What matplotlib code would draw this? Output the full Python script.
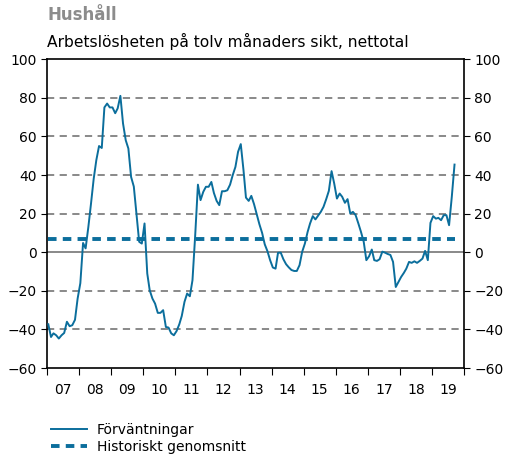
import numpy as np
import pandas as pd
import matplotlib
matplotlib.use("Agg")
import matplotlib.pyplot as plt

# monthly net balance, Jan 2007 - Sep 2019
v2007 = [-37.3, -43.9, -42, -43, -44.7, -43, -41.8, -36, -38.3, -37.8, -35, -24]
v2008 = [-16, 4.8, 2, 13, 25, 38, 47.7, 55, 54, 75, 77, 75]
v2009 = [75, 72, 74.5, 81, 66.7, 58, 53.7, 39, 34, 20, 5.4, 4.5]
v2010 = [14.9, -11, -19.7, -24, -26.6, -31.4, -31.4, -30, -38.7, -39, -42, -43]
v2011 = [-40.8, -37.3, -33, -25.7, -21.4, -22.8, -14.5, 8.8, 35, 27, 31.3, 33.9]
v2012 = [33.9, 36.4, 30.7, 26.6, 24.4, 31.6, 31.6, 32.1, 35, 39.9, 44.2, 52]
v2013 = [56, 42.5, 28.3, 26.6, 29.2, 24.9, 19.7, 14.5, 10, 4.1, 0.5, -4.1]
v2014 = [-7.9, -8.5, -0.3, -0.2, -3.6, -6.2, -7.8, -9.2, -9.7, -9.7, -6.7, 0.2]
v2015 = [4.5, 10.5, 14.9, 18.7, 17, 19, 20.9, 23.5, 27.5, 31.8, 42, 35.6]
v2016 = [27.8, 30.4, 28.7, 25.6, 27.5, 20, 20.9, 19.2, 14.9, 10.5, 5.4, -4.1]
v2017 = [-2.1, 1.4, -4.1, -4.5, -3.6, 0.3, -0.2, -0.9, -1.4, -5, -18, -15.5]
v2018 = [-12.8, -10.7, -8.5, -5, -5.5, -4.7, -5.5, -4.5, -3.3, 0.7, -4.1, 15.2]
v2019 = [18.7, 17.4, 17.8, 16.6, 19.2, 19.2, 14, 28.7, 45.4]

historical_avg = 7
year_labels = ["07", "08", "09", "10", "11", "12", "13", "14", "15", "16", "17", "18", "19"]

values = (v2007 + v2008 + v2009 + v2010 + v2011 + v2012 + v2013 + v2014
          + v2015 + v2016 + v2017 + v2018 + v2019)
dates = pd.date_range("2007-01-01", periods=len(values), freq="MS") + pd.Timedelta(days=14)

blue = "#0b6e9c"
grey = "#808080"

fig = plt.figure(figsize=(5.06, 4.55), dpi=100)
ax = fig.add_axes([0.093, 0.191, 0.824, 0.679])

for y in range(-40, 100, 20):
    if y == 0:
        ax.axhline(0, color=grey, lw=1.3, zorder=1)
    else:
        ax.axhline(y, color=grey, lw=1.3, ls=(0, (4, 3)), zorder=1)

ax.plot(dates, values, color=blue, lw=1.4, label="Förväntningar", zorder=3)
ax.plot([dates[0], dates[-1]], [historical_avg, historical_avg], color=blue, lw=2.8,
        ls=(0, (2.2, 1.6)), label="Historiskt genomsnitt", zorder=2)

ax.set_ylim(-60, 100)
ax.set_yticks(range(-60, 101, 20))
ax.tick_params(axis="y", which="both", left=True, right=True, labelleft=True,
               labelright=True, direction="out", length=4, labelsize=10)

year_starts = pd.to_datetime([f"{y}-01-01" for y in range(2007, 2021)])
mids = pd.to_datetime([f"{y}-07-02" for y in range(2007, 2020)])
ax.set_xlim(year_starts[0], year_starts[-1])
ax.set_xticks(year_starts)
ax.set_xticklabels([])
ax.set_xticks(mids, minor=True)
ax.set_xticklabels(year_labels, minor=True)
ax.tick_params(axis="x", which="major", direction="out", length=5)
ax.tick_params(axis="x", which="minor", length=0, labelsize=10, pad=11)

for s in ax.spines.values():
    s.set_color("black")
    s.set_linewidth(1.2)

fig.text(0.093, 0.967, "Hushåll", fontsize=12, fontweight="bold", color="#8c8c8c", va="center")
fig.text(0.093, 0.908, "Arbetslösheten på tolv månaders sikt, nettotal", fontsize=11.2,
         color="black", va="center")

fig.legend(loc="upper left", bbox_to_anchor=(0.09, 0.083), frameon=False, fontsize=10,
           handlelength=2.6, labelspacing=0.2, borderaxespad=0, handletextpad=0.7)

fig.savefig("out.png", dpi=100)
